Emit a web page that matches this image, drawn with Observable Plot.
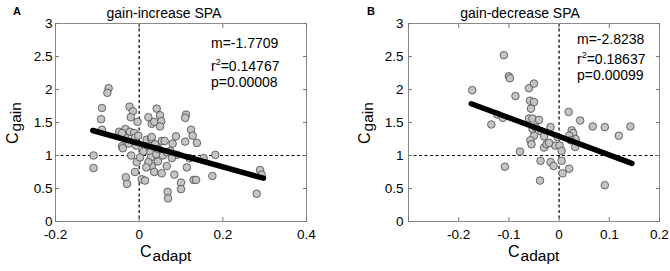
<!DOCTYPE html>
<html><head><meta charset="utf-8">
<script src="https://cdn.jsdelivr.net/npm/d3@7"></script>
<script src="https://cdn.jsdelivr.net/npm/@observablehq/plot@0.6"></script>
<style>
body{margin:0;background:#fff;}
#wrap{position:relative;width:670px;height:271px;font-family:"Liberation Sans",Arial,sans-serif;}
#wrap > svg{position:absolute;top:0;}
</style></head><body><div id="wrap"></div>
<script>
// ---- Panel A data (gain-increase SPA) ----
const xA = [-0.073,-0.076,-0.089,-0.091,-0.089,-0.109,-0.109,-0.048,-0.041,-0.039,-0.033,-0.023,-0.015,-0.020,-0.022,-0.012,-0.010,-0.019,-0.032,-0.029,-0.007,-0.006,-0.010,-0.004,-0.002,0.006,0.014,0.018,0.014,0.022,0.030,0.036,0.042,0.050,0.053,0.050,0.029,0.026,0.028,0.030,0.022,0.017,0.036,0.045,0.041,0.054,0.057,0.054,0.061,0.066,0.068,0.069,0.074,0.080,0.088,0.084,0.090,0.100,0.100,0.112,0.110,0.110,0.114,0.124,0.128,0.130,0.136,0.138,0.120,0.154,0.182,0.175,0.281,0.289,0.293,0.010,0.002,0.038,0.066,-0.033,-0.041,-0.025,0.030,0.046,0.078];
const yA = [2.02,1.95,1.72,1.55,1.39,1.00,0.81,1.36,1.14,1.11,1.40,1.74,1.67,1.58,1.36,1.34,1.27,1.00,0.67,0.57,1.15,0.90,0.75,1.51,1.30,0.64,0.62,1.24,1.13,1.58,1.48,1.51,1.71,1.61,1.52,1.44,1.25,1.05,0.97,0.84,0.90,0.82,0.75,0.91,1.02,0.73,1.00,1.22,1.22,0.84,0.45,0.35,1.07,1.18,1.29,0.71,1.01,0.59,0.49,1.62,1.57,1.21,0.82,1.39,1.30,0.63,0.63,1.19,0.96,0.96,1.01,0.69,0.42,0.78,0.71,1.06,0.97,1.17,1.05,1.27,1.34,1.18,1.28,1.10,0.96];
const fitA = {slope: -1.7709, intercept: 1.182, xStart: -0.111, xEnd: 0.297};
const statsA = ["m=-1.7709", "0.14767", "p=0.00008"];
const xTicksA = [-0.2, 0, 0.2, 0.4];

// ---- Panel B data (gain-decrease SPA) ----
const xB = [-0.173,-0.135,-0.123,-0.112,-0.110,-0.100,-0.098,-0.087,-0.108,-0.078,-0.060,-0.050,-0.058,-0.050,-0.056,-0.060,-0.053,-0.040,-0.053,-0.047,-0.035,-0.050,-0.030,-0.017,-0.057,-0.055,-0.030,-0.025,-0.008,0.001,0.005,0.019,0.025,0.028,0.033,0.032,0.042,0.067,0.091,0.119,0.142,-0.037,-0.017,-0.011,0.005,0.007,0.020,-0.038,0.091,-0.003,-0.020,0.020,0.023];
const yB = [1.99,1.47,1.62,1.57,2.52,2.20,2.17,1.90,0.83,1.06,2.02,2.09,1.83,1.81,1.71,1.56,1.56,1.54,1.40,1.43,1.36,1.30,1.29,1.43,1.23,1.17,1.12,1.17,1.15,1.15,1.07,1.66,1.38,1.34,1.25,1.13,1.53,1.44,1.43,1.30,1.44,0.92,0.90,0.84,0.92,0.73,0.80,0.62,0.55,1.28,1.19,1.30,1.23];
const fitB = {slope: -2.8238, intercept: 1.290, xStart: -0.175, xEnd: 0.145};
const statsB = ["m=-2.8238", "0.18637", "p=0.00099"];
const xTicksB = [-0.2, -0.1, 0, 0.1, 0.2];
const xTickMarksB = [-0.3, -0.2, -0.1, 0, 0.1, 0.2];

const yTicks = [0, 0.5, 1, 1.5, 2, 2.5, 3];
const titles = ["gain-increase SPA", "gain-decrease SPA"];
const letters = ["A", "B"];

const FONT = '"Liberation Sans", Arial, sans-serif';

function panel({xs, ys, fit, xDomain, xTicks, xTickMarks, left, mL, mR, yPad}) {
  const pts = xs.map((x, i) => ({x, y: ys[i]}));
  const line = [fit.xStart, fit.xEnd].map(x => ({x, y: fit.intercept + fit.slope * x}));
  const fmt = d => String(d);
  const svg = Plot.plot({
    width: 335, height: 271,
    marginLeft: mL, marginRight: mR, marginTop: 23, marginBottom: 50,
    style: {fontFamily: FONT, background: "transparent", color: "#000"},
    x: {domain: xDomain},
    y: {domain: [0, 3]},
    marks: [
      Plot.ruleX([0], {stroke: "#000", strokeWidth: 1.2, strokeDasharray: "3,2.5"}),
      Plot.ruleY([1], {stroke: "#000", strokeWidth: 1.2, strokeDasharray: "3,2.5"}),
      Plot.dot(pts, {x: "x", y: "y", r: 3.8, fill: "#c4c4c4", stroke: "#474747", strokeWidth: 0.8}),
      Plot.line(line, {x: "x", y: "y", stroke: "#000", strokeWidth: 5.5}),
      Plot.frame({stroke: "#8a8a8a", strokeWidth: 1}),
      Plot.axisX(xTickMarks, {anchor: "bottom", tickSize: 4, dy: -4, tickFormat: () => "", stroke: "#777", label: null}),
      Plot.axisX(xTickMarks, {anchor: "top", tickSize: 4, dy: 4, tickFormat: () => "", stroke: "#777", label: null}),
      Plot.axisY(yTicks, {anchor: "left", tickSize: 4, dx: 4, tickFormat: () => "", stroke: "#777", label: null}),
      Plot.axisY(yTicks, {anchor: "right", tickSize: 4, dx: -4, tickFormat: () => "", stroke: "#777", label: null}),
      Plot.axisX(xTicks, {anchor: "bottom", tickSize: 0, tickPadding: 8, tickFormat: fmt, fontSize: 13.5, fill: "#000", label: null}),
      Plot.axisY(yTicks, {anchor: "left", tickSize: 0, tickPadding: yPad, tickFormat: fmt, fontSize: 13.5, fill: "#000", label: null})
    ]
  });
  svg.style.left = left + "px";
  return svg;
}

const wrap = document.getElementById("wrap");
wrap.appendChild(panel({xs: xA, ys: yA, fit: fitA, xDomain: [-0.2, 0.4], xTicks: xTicksA, xTickMarks: xTicksA, left: 0, mL: 55, mR: 29, yPad: 3}));
wrap.appendChild(panel({xs: xB, ys: yB, fit: fitB, xDomain: [-0.3, 0.2], xTicks: xTicksB, xTickMarks: xTickMarksB, left: 335, mL: 73, mR: 11, yPad: 5}));

// ---- overlay: titles, panel letters, axis labels, statistics ----
const ov = d3.select(wrap).append("svg")
  .attr("width", 670).attr("height", 271)
  .style("left", "0px").style("pointer-events", "none")
  .attr("font-family", FONT).attr("fill", "#000");

const lay = [
  {titleX: 164, letterX: 13, statX: 211, statY: [48, 70.5, 87], xlabX: 140, ylabX: 18.3, stats: statsA},
  {titleX: 520, letterX: 367, statX: 577, statY: [44, 63.5, 79.5], xlabX: 508, ylabX: 370, stats: statsB}
];
lay.forEach((L, i) => {
  ov.append("text").attr("x", L.titleX).attr("y", 17.5).attr("text-anchor", "middle")
    .attr("font-size", 14).text(titles[i]);
  ov.append("text").attr("x", L.letterX).attr("y", 15).attr("font-size", 11)
    .attr("font-weight", "bold").text(letters[i]);
  ov.append("text").attr("x", L.statX).attr("y", L.statY[0]).attr("font-size", 14).text(L.stats[0]);
  const r = ov.append("text").attr("x", L.statX).attr("y", L.statY[1]).attr("font-size", 14);
  r.append("tspan").text("r");
  r.append("tspan").attr("font-size", 9).attr("dy", -6).text("2");
  r.append("tspan").attr("dy", 6).text("=" + L.stats[1]);
  ov.append("text").attr("x", L.statX).attr("y", L.statY[2]).attr("font-size", 14).text(L.stats[2]);
  const xl = ov.append("text").attr("x", L.xlabX).attr("y", 256.5);
  xl.append("tspan").attr("font-size", 16).text("C");
  xl.append("tspan").attr("font-size", 15.5).attr("dy", 4.5).attr("dx", 1).text("adapt");
  const yl = ov.append("text").attr("transform", `translate(${L.ylabX},144) rotate(-90)`);
  yl.append("tspan").attr("font-size", 16).text("C");
  yl.append("tspan").attr("font-size", 15.5).attr("dy", 3).attr("dx", 1).text("gain");
});
</script></body></html>
